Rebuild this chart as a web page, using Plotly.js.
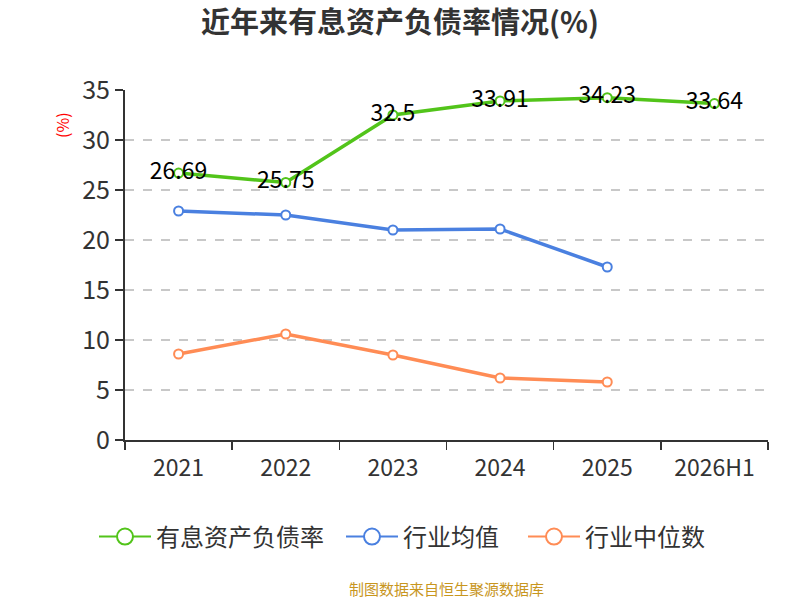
<!DOCTYPE html>
<html>
<head>
<meta charset="utf-8">
<script src="https://cdn.plot.ly/plotly-3.0.1.min.js"></script>
<style>html,body{margin:0;padding:0;background:#fff;}#chart{width:800px;height:600px;}</style>
</head>
<body>
<div id="chart"></div>
<script>
const categories = ["2021", "2022", "2023", "2024", "2025", "2026H1"];
const debtRatio = [26.69, 25.75, 32.5, 33.91, 34.23, 33.64];
const industryMean = [22.9, 22.5, 21.0, 21.1, 17.3];
const industryMedian = [8.6, 10.6, 8.5, 6.2, 5.8];
const seriesNames = ["有息资产负债率", "行业均值", "行业中位数"];
const colors = ["#52c41a", "#4a80e0", "#ff8c55"];

const FONT = '"Noto Sans CJK SC", "Noto Sans", sans-serif';

const mkFill = (color, size) => ({symbol: "circle", size: size, color: "#fff", line: {width: 2, color: color}});

const dataTraces = [
  {
    x: categories, y: debtRatio, name: seriesNames[0], type: "scatter", mode: "lines+markers+text", showlegend: false,
    line: {color: colors[0], width: 3.5}, marker: mkFill(colors[0], 9),
    text: debtRatio.map(String), textposition: "middle center",
    textfont: {family: FONT, size: 23, color: "#000"}, cliponaxis: false
  },
  {
    x: categories.slice(0, industryMean.length), y: industryMean, name: seriesNames[1], type: "scatter", mode: "lines+markers", showlegend: false,
    line: {color: colors[1], width: 3.5}, marker: mkFill(colors[1], 9)
  },
  {
    x: categories.slice(0, industryMedian.length), y: industryMedian, name: seriesNames[2], type: "scatter", mode: "lines+markers", showlegend: false,
    line: {color: colors[2], width: 3.5}, marker: mkFill(colors[2], 9)
  }
];

const legendIds = ["legend", "legend2", "legend3"];
const legendTraces = seriesNames.map((n, i) => ({
  x: [null], y: [null], name: n, type: "scatter", mode: "lines+markers", showlegend: true, legend: legendIds[i],
  line: {color: colors[i], width: 2}, marker: mkFill(colors[i], 20)
}));

const legendPx = [98, 345, 527];
const legendBase = (px) => ({orientation: "h", x: (px - 125 - 4) / 643, xanchor: "left", y: -0.277, yanchor: "middle",
  font: {family: FONT, size: 24, color: "#333"}, itemwidth: 52, bgcolor: "rgba(0,0,0,0)"});

const layout = {
  width: 800, height: 600,
  margin: {l: 125, r: 32, t: 90, b: 160},
  paper_bgcolor: "#fff", plot_bgcolor: "#fff",
  font: {family: FONT, color: "#333"},
  title: {text: "<b>近年来有息资产负债率情况(%)</b>", x: 0.5, xanchor: "center", y: 0.962, yanchor: "middle",
          font: {family: FONT, size: 29, color: "#333"}},
  xaxis: {
    type: "category", categoryorder: "array", categoryarray: categories,
    range: [-0.5, 5.5], showgrid: false, showline: true, linecolor: "#333", linewidth: 2,
    ticks: "outside", tickson: "boundaries", ticklen: 8, tickwidth: 1.5, tickcolor: "#333",
    ticklabelstandoff: 6,
    tickfont: {family: FONT, size: 23, color: "#333"}, zeroline: false, fixedrange: true
  },
  yaxis: {
    range: [0, 35], dtick: 5, showgrid: true, gridcolor: "#c8c8c8", griddash: "dash", gridwidth: 1.2,
    showline: true, linecolor: "#333", linewidth: 2, ticks: "outside", ticklen: 8, tickwidth: 1.5, tickcolor: "#333",
    tickfont: {family: FONT, size: 25, color: "#333"}, zeroline: false, fixedrange: true
  },
  showlegend: true,
  legend: legendBase(legendPx[0]),
  legend2: legendBase(legendPx[1]),
  legend3: legendBase(legendPx[2]),
  annotations: [
    {text: "(%)", textangle: -90, xref: "paper", yref: "paper", x: -0.098, y: 0.9, xanchor: "center", yanchor: "middle",
     showarrow: false, font: {family: FONT, size: 16, color: "#ff0000"}},
    {text: "制图数据来自恒生聚源数据库", xref: "paper", yref: "paper", x: 0.5, y: -0.425, xanchor: "center", yanchor: "middle",
     showarrow: false, font: {family: FONT, size: 15, color: "#c8961e"}}
  ]
};

Plotly.newPlot("chart", dataTraces.concat(legendTraces), layout, {displayModeBar: false, staticPlot: true});
</script>
</body>
</html>
